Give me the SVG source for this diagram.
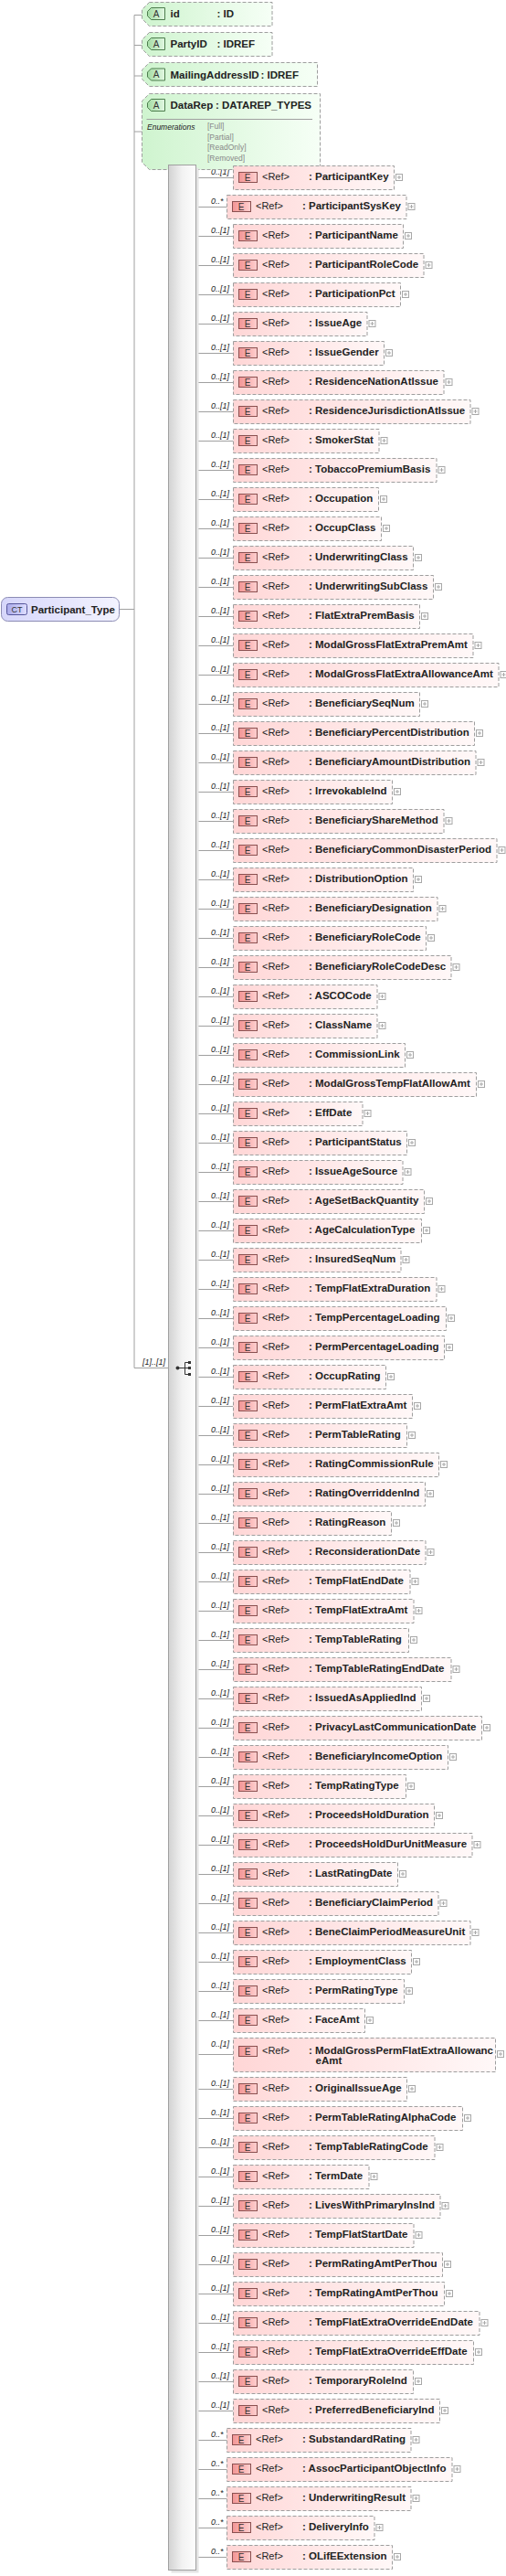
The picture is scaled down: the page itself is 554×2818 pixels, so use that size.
<svg xmlns="http://www.w3.org/2000/svg" xmlns:xlink="http://www.w3.org/1999/xlink" width="554" height="2818" viewBox="0 0 554 2818">
<style>
.eb{fill:url(#gEl);stroke:#9e9e9e;stroke-width:1;stroke-dasharray:4 2}
.ab{fill:url(#gAt);stroke:#9e9e9e;stroke-width:1;stroke-dasharray:4 2}
.ref{font-family:"Liberation Sans",Arial,sans-serif;font-size:11px;fill:#222}
.nm{font-family:"Liberation Sans",Arial,sans-serif;font-size:11.5px;font-weight:bold;fill:#222}
.et{font-family:"Liberation Sans",Arial,sans-serif;font-size:10px;fill:#333;text-anchor:middle}
.ml{font-family:"Liberation Sans",Arial,sans-serif;font-size:9px;font-style:italic;fill:#222}
.cn{stroke:#a0a0a0;stroke-width:1;fill:none}
.en{font-family:"Liberation Sans",Arial,sans-serif;font-size:8.5px;fill:#888}
.eh{font-family:"Liberation Sans",Arial,sans-serif;font-size:8.5px;font-style:italic;fill:#222}
</style>
<defs>
<linearGradient id="gEl" x1="0" y1="0" x2="1" y2="0"><stop offset="0" stop-color="#ffd6d6"/><stop offset="1" stop-color="#fff8f8"/></linearGradient>
<linearGradient id="gEi" x1="0" y1="0" x2="1" y2="0"><stop offset="0" stop-color="#f29494"/><stop offset="1" stop-color="#ffd0d0"/></linearGradient>
<linearGradient id="gAt" x1="0" y1="0" x2="1" y2="0"><stop offset="0" stop-color="#cff4cf"/><stop offset="1" stop-color="#f6fff6"/></linearGradient>
<linearGradient id="gAi" x1="0" y1="0" x2="1" y2="0"><stop offset="0" stop-color="#a4dca4"/><stop offset="1" stop-color="#e2f8e2"/></linearGradient>
<linearGradient id="gCT" x1="0" y1="0" x2="1" y2="0"><stop offset="0" stop-color="#d6d6fa"/><stop offset="1" stop-color="#f3f3ff"/></linearGradient>
<linearGradient id="gCTi" x1="0" y1="0" x2="1" y2="0"><stop offset="0" stop-color="#aaaaea"/><stop offset="1" stop-color="#dedeff"/></linearGradient>
<linearGradient id="gCo" x1="0" y1="0" x2="1" y2="0"><stop offset="0" stop-color="#d2d2d2"/><stop offset="0.5" stop-color="#f2f2f2"/><stop offset="1" stop-color="#fdfdfd"/></linearGradient>
<g id="ei"><rect x="0.5" y="7.5" width="20" height="11" fill="url(#gEi)" stroke="#8a5050"/></g>
<g id="pl"><rect x="0.5" y="9.5" width="7" height="7" fill="#fff" stroke="#a8a8a8"/><path d="M2 13H6M4 11V15" stroke="#a8a8a8" fill="none"/></g>
<g id="ai"><path d="M4.5 0.5H19.5V13.5H4.5L0.5 9.5V4.5Z" fill="url(#gAi)" stroke="#4d7d4d"/></g>
</defs>
<rect width="554" height="2818" fill="#fff"/>

<g id="connectors">
<path class="cn" d="M147 16.5V1496.5M147 16.5H155.5M147 49.5H155.5M147 83H155.5M147 144H155.5M130.5 666.5H147M147 1496.5H184.5"/>
<text class="ml" x="156" y="1493">[1]..[1]</text>
<path class="cn" d="M214.5 194.5H255M214.5 226.5H248M214.5 258.5H255M214.5 290.5H255M214.5 322.5H255M214.5 354.5H255M214.5 386.5H255M214.5 418.5H255M214.5 450.5H255M214.5 482.5H255M214.5 514.5H255M214.5 546.5H255M214.5 578.5H255M214.5 610.5H255M214.5 642.5H255M214.5 674.5H255M214.5 706.5H255M214.5 738.5H255M214.5 770.5H255M214.5 802.5H255M214.5 834.5H255M214.5 866.5H255M214.5 898.5H255M214.5 930.5H255M214.5 962.5H255M214.5 994.5H255M214.5 1026.5H255M214.5 1058.5H255M214.5 1090.5H255M214.5 1122.5H255M214.5 1154.5H255M214.5 1186.5H255M214.5 1218.5H255M214.5 1250.5H255M214.5 1282.5H255M214.5 1314.5H255M214.5 1346.5H255M214.5 1378.5H255M214.5 1410.5H255M214.5 1442.5H255M214.5 1474.5H255M214.5 1506.5H255M214.5 1538.5H255M214.5 1570.5H255M214.5 1602.5H255M214.5 1634.5H255M214.5 1666.5H255M214.5 1698.5H255M214.5 1730.5H255M214.5 1762.5H255M214.5 1794.5H255M214.5 1826.5H255M214.5 1858.5H255M214.5 1890.5H255M214.5 1922.5H255M214.5 1954.5H255M214.5 1986.5H255M214.5 2018.5H255M214.5 2050.5H255M214.5 2082.5H255M214.5 2114.5H255M214.5 2146.5H255M214.5 2178.5H255M214.5 2210.5H255M214.5 2247.5H255M214.5 2285.5H255M214.5 2317.5H255M214.5 2349.5H255M214.5 2381.5H255M214.5 2413.5H255M214.5 2445.5H255M214.5 2477.5H255M214.5 2509.5H255M214.5 2541.5H255M214.5 2573.5H255M214.5 2605.5H255M214.5 2637.5H255M214.5 2669.5H248M214.5 2701.5H248M214.5 2733.5H248M214.5 2765.5H248M214.5 2797.5H248"/>
<g class="ml">
<text x="231" y="190.5">0..[1]</text><text x="231" y="222.5">0..*</text><text x="231" y="254.5">0..[1]</text><text x="231" y="286.5">0..[1]</text><text x="231" y="318.5">0..[1]</text><text x="231" y="350.5">0..[1]</text><text x="231" y="382.5">0..[1]</text><text x="231" y="414.5">0..[1]</text><text x="231" y="446.5">0..[1]</text><text x="231" y="478.5">0..[1]</text><text x="231" y="510.5">0..[1]</text><text x="231" y="542.5">0..[1]</text><text x="231" y="574.5">0..[1]</text><text x="231" y="606.5">0..[1]</text><text x="231" y="638.5">0..[1]</text><text x="231" y="670.5">0..[1]</text><text x="231" y="702.5">0..[1]</text><text x="231" y="734.5">0..[1]</text><text x="231" y="766.5">0..[1]</text><text x="231" y="798.5">0..[1]</text><text x="231" y="830.5">0..[1]</text><text x="231" y="862.5">0..[1]</text><text x="231" y="894.5">0..[1]</text><text x="231" y="926.5">0..[1]</text><text x="231" y="958.5">0..[1]</text><text x="231" y="990.5">0..[1]</text><text x="231" y="1022.5">0..[1]</text><text x="231" y="1054.5">0..[1]</text><text x="231" y="1086.5">0..[1]</text><text x="231" y="1118.5">0..[1]</text><text x="231" y="1150.5">0..[1]</text><text x="231" y="1182.5">0..[1]</text><text x="231" y="1214.5">0..[1]</text><text x="231" y="1246.5">0..[1]</text><text x="231" y="1278.5">0..[1]</text><text x="231" y="1310.5">0..[1]</text><text x="231" y="1342.5">0..[1]</text><text x="231" y="1374.5">0..[1]</text><text x="231" y="1406.5">0..[1]</text><text x="231" y="1438.5">0..[1]</text><text x="231" y="1470.5">0..[1]</text><text x="231" y="1502.5">0..[1]</text><text x="231" y="1534.5">0..[1]</text><text x="231" y="1566.5">0..[1]</text><text x="231" y="1598.5">0..[1]</text><text x="231" y="1630.5">0..[1]</text><text x="231" y="1662.5">0..[1]</text><text x="231" y="1694.5">0..[1]</text><text x="231" y="1726.5">0..[1]</text><text x="231" y="1758.5">0..[1]</text><text x="231" y="1790.5">0..[1]</text><text x="231" y="1822.5">0..[1]</text><text x="231" y="1854.5">0..[1]</text><text x="231" y="1886.5">0..[1]</text><text x="231" y="1918.5">0..[1]</text><text x="231" y="1950.5">0..[1]</text><text x="231" y="1982.5">0..[1]</text><text x="231" y="2014.5">0..[1]</text><text x="231" y="2046.5">0..[1]</text><text x="231" y="2078.5">0..[1]</text><text x="231" y="2110.5">0..[1]</text><text x="231" y="2142.5">0..[1]</text><text x="231" y="2174.5">0..[1]</text><text x="231" y="2206.5">0..[1]</text><text x="231" y="2238.5">0..[1]</text><text x="231" y="2281.5">0..[1]</text><text x="231" y="2313.5">0..[1]</text><text x="231" y="2345.5">0..[1]</text><text x="231" y="2377.5">0..[1]</text><text x="231" y="2409.5">0..[1]</text><text x="231" y="2441.5">0..[1]</text><text x="231" y="2473.5">0..[1]</text><text x="231" y="2505.5">0..[1]</text><text x="231" y="2537.5">0..[1]</text><text x="231" y="2569.5">0..[1]</text><text x="231" y="2601.5">0..[1]</text><text x="231" y="2633.5">0..[1]</text><text x="231" y="2665.5">0..*</text><text x="231" y="2697.5">0..*</text><text x="231" y="2729.5">0..*</text><text x="231" y="2761.5">0..*</text><text x="231" y="2793.5">0..*</text>
</g>
</g>

<g id="attr-id">
<path class="ab" d="M163.5 2.5H298V28.5H163.5L155.5 20.5V10.5Z"/>
<use href="#ai" x="161" y="8"/><text class="et" x="171" y="18.5">A</text>
<text class="nm" x="186.5" y="19">id</text><text class="nm" x="237.5" y="19">: ID</text>
</g>
<g id="attr-PartyID">
<path class="ab" d="M163.5 35.5H298V61.5H163.5L155.5 53.5V43.5Z"/>
<use href="#ai" x="161" y="41"/><text class="et" x="171" y="51.5">A</text>
<text class="nm" x="186.5" y="52">PartyID</text><text class="nm" x="237.5" y="52">: IDREF</text>
</g>
<g id="attr-MailingAddressID">
<path class="ab" d="M163.5 68.5H347.5V94.5H163.5L155.5 86.5V76.5Z"/>
<use href="#ai" x="161" y="74.5"/><text class="et" x="171" y="85">A</text>
<text class="nm" x="186.5" y="85.5">MailingAddressID</text><text class="nm" x="285.5" y="85.5">: IDREF</text>
</g>
<g id="attr-DataRep">
<path class="ab" d="M163.5 102.5H350.5V185.5H163.5L155.5 177.5V110.5Z"/>
<use href="#ai" x="161" y="108"/><text class="et" x="171" y="118.5">A</text>
<text class="nm" x="186.5" y="119">DataRep</text><text class="nm" x="236" y="119">: DATAREP_TYPES</text>
<path d="M160.5 130.5H342" stroke="#a0a0a0"/>
<text class="eh" x="161" y="142">Enumerations</text>
<text class="en" x="227" y="141">[Full]</text><text class="en" x="227" y="152.5">[Partial]</text><text class="en" x="227" y="164">[ReadOnly]</text><text class="en" x="227" y="175.5">[Removed]</text>
</g>

<g id="ct-Participant_Type">
<rect x="1.5" y="653.5" width="129" height="26" rx="7" fill="url(#gCT)" stroke="#8c8cb4"/>
<rect x="7.5" y="660.5" width="22" height="12" rx="2" fill="url(#gCTi)" stroke="#55559a"/>
<text class="et" x="18.5" y="670" style="font-size:9px">CT</text>
<text class="nm" x="34" y="670.5">Participant_Type</text>
</g>

<g id="sequence">
<rect x="187.5" y="183.5" width="30" height="2631" fill="#e4e4e4"/>
<rect x="184.5" y="180.5" width="30" height="2631" fill="url(#gCo)" stroke="#a0a0a0"/>
<circle cx="194.5" cy="1496.5" r="2" fill="#333"/>
<path d="M194.5 1496.5H202.5M202.5 1490.5V1503.5M202.5 1490.5H206M202.5 1496.5H206M202.5 1503.5H206" stroke="#333" fill="none"/>
<rect x="206" y="1489" width="3" height="3" fill="#333"/><rect x="206" y="1495" width="3" height="3" fill="#333"/><rect x="206" y="1502" width="3" height="3" fill="#333"/>
</g>

<g id="el-ParticipantKey" transform="translate(0 181)"><rect class="eb" x="255.5" y="0.5" width="176" height="26"/><use href="#ei" x="261"/><text class="et" x="271" y="16.5">E</text><text class="ref" x="287" y="16">&lt;Ref&gt;</text><text class="nm" x="338" y="16">: ParticipantKey</text><use href="#pl" x="433"/></g>
<g id="el-ParticipantSysKey" transform="translate(0 213)"><rect class="eb" x="248.5" y="0.5" width="196.5" height="26"/><use href="#ei" x="254"/><text class="et" x="264" y="16.5">E</text><text class="ref" x="280" y="16">&lt;Ref&gt;</text><text class="nm" x="331" y="16">: ParticipantSysKey</text><use href="#pl" x="446.5"/></g>
<g id="el-ParticipantName" transform="translate(0 245)"><rect class="eb" x="255.5" y="0.5" width="186" height="26"/><use href="#ei" x="261"/><text class="et" x="271" y="16.5">E</text><text class="ref" x="287" y="16">&lt;Ref&gt;</text><text class="nm" x="338" y="16">: ParticipantName</text><use href="#pl" x="443"/></g>
<g id="el-ParticipantRoleCode" transform="translate(0 277)"><rect class="eb" x="255.5" y="0.5" width="208.5" height="26"/><use href="#ei" x="261"/><text class="et" x="271" y="16.5">E</text><text class="ref" x="287" y="16">&lt;Ref&gt;</text><text class="nm" x="338" y="16">: ParticipantRoleCode</text><use href="#pl" x="465.5"/></g>
<g id="el-ParticipationPct" transform="translate(0 309)"><rect class="eb" x="255.5" y="0.5" width="183" height="26"/><use href="#ei" x="261"/><text class="et" x="271" y="16.5">E</text><text class="ref" x="287" y="16">&lt;Ref&gt;</text><text class="nm" x="338" y="16">: ParticipationPct</text><use href="#pl" x="440"/></g>
<g id="el-IssueAge" transform="translate(0 341)"><rect class="eb" x="255.5" y="0.5" width="146.5" height="26"/><use href="#ei" x="261"/><text class="et" x="271" y="16.5">E</text><text class="ref" x="287" y="16">&lt;Ref&gt;</text><text class="nm" x="338" y="16">: IssueAge</text><use href="#pl" x="403.5"/></g>
<g id="el-IssueGender" transform="translate(0 373)"><rect class="eb" x="255.5" y="0.5" width="165" height="26"/><use href="#ei" x="261"/><text class="et" x="271" y="16.5">E</text><text class="ref" x="287" y="16">&lt;Ref&gt;</text><text class="nm" x="338" y="16">: IssueGender</text><use href="#pl" x="422"/></g>
<g id="el-ResidenceNationAtIssue" transform="translate(0 405)"><rect class="eb" x="255.5" y="0.5" width="230.5" height="26"/><use href="#ei" x="261"/><text class="et" x="271" y="16.5">E</text><text class="ref" x="287" y="16">&lt;Ref&gt;</text><text class="nm" x="338" y="16">: ResidenceNationAtIssue</text><use href="#pl" x="487.5"/></g>
<g id="el-ResidenceJurisdictionAtIssue" transform="translate(0 437)"><rect class="eb" x="255.5" y="0.5" width="259.5" height="26"/><use href="#ei" x="261"/><text class="et" x="271" y="16.5">E</text><text class="ref" x="287" y="16">&lt;Ref&gt;</text><text class="nm" x="338" y="16">: ResidenceJurisdictionAtIssue</text><use href="#pl" x="516.5"/></g>
<g id="el-SmokerStat" transform="translate(0 469)"><rect class="eb" x="255.5" y="0.5" width="159.5" height="26"/><use href="#ei" x="261"/><text class="et" x="271" y="16.5">E</text><text class="ref" x="287" y="16">&lt;Ref&gt;</text><text class="nm" x="338" y="16">: SmokerStat</text><use href="#pl" x="416.5"/></g>
<g id="el-TobaccoPremiumBasis" transform="translate(0 501)"><rect class="eb" x="255.5" y="0.5" width="222.5" height="26"/><use href="#ei" x="261"/><text class="et" x="271" y="16.5">E</text><text class="ref" x="287" y="16">&lt;Ref&gt;</text><text class="nm" x="338" y="16">: TobaccoPremiumBasis</text><use href="#pl" x="479.5"/></g>
<g id="el-Occupation" transform="translate(0 533)"><rect class="eb" x="255.5" y="0.5" width="159" height="26"/><use href="#ei" x="261"/><text class="et" x="271" y="16.5">E</text><text class="ref" x="287" y="16">&lt;Ref&gt;</text><text class="nm" x="338" y="16">: Occupation</text><use href="#pl" x="416"/></g>
<g id="el-OccupClass" transform="translate(0 565)"><rect class="eb" x="255.5" y="0.5" width="162" height="26"/><use href="#ei" x="261"/><text class="et" x="271" y="16.5">E</text><text class="ref" x="287" y="16">&lt;Ref&gt;</text><text class="nm" x="338" y="16">: OccupClass</text><use href="#pl" x="419"/></g>
<g id="el-UnderwritingClass" transform="translate(0 597)"><rect class="eb" x="255.5" y="0.5" width="197" height="26"/><use href="#ei" x="261"/><text class="et" x="271" y="16.5">E</text><text class="ref" x="287" y="16">&lt;Ref&gt;</text><text class="nm" x="338" y="16">: UnderwritingClass</text><use href="#pl" x="454"/></g>
<g id="el-UnderwritingSubClass" transform="translate(0 629)"><rect class="eb" x="255.5" y="0.5" width="219" height="26"/><use href="#ei" x="261"/><text class="et" x="271" y="16.5">E</text><text class="ref" x="287" y="16">&lt;Ref&gt;</text><text class="nm" x="338" y="16">: UnderwritingSubClass</text><use href="#pl" x="476"/></g>
<g id="el-FlatExtraPremBasis" transform="translate(0 661)"><rect class="eb" x="255.5" y="0.5" width="204" height="26"/><use href="#ei" x="261"/><text class="et" x="271" y="16.5">E</text><text class="ref" x="287" y="16">&lt;Ref&gt;</text><text class="nm" x="338" y="16">: FlatExtraPremBasis</text><use href="#pl" x="461"/></g>
<g id="el-ModalGrossFlatExtraPremAmt" transform="translate(0 693)"><rect class="eb" x="255.5" y="0.5" width="262.5" height="26"/><use href="#ei" x="261"/><text class="et" x="271" y="16.5">E</text><text class="ref" x="287" y="16">&lt;Ref&gt;</text><text class="nm" x="338" y="16">: ModalGrossFlatExtraPremAmt</text><use href="#pl" x="519.5"/></g>
<g id="el-ModalGrossFlatExtraAllowanceAmt" transform="translate(0 725)"><rect class="eb" x="255.5" y="0.5" width="290.5" height="26"/><use href="#ei" x="261"/><text class="et" x="271" y="16.5">E</text><text class="ref" x="287" y="16">&lt;Ref&gt;</text><text class="nm" x="338" y="16">: ModalGrossFlatExtraAllowanceAmt</text><use href="#pl" x="547.5"/></g>
<g id="el-BeneficiarySeqNum" transform="translate(0 757)"><rect class="eb" x="255.5" y="0.5" width="204" height="26"/><use href="#ei" x="261"/><text class="et" x="271" y="16.5">E</text><text class="ref" x="287" y="16">&lt;Ref&gt;</text><text class="nm" x="338" y="16">: BeneficiarySeqNum</text><use href="#pl" x="461"/></g>
<g id="el-BeneficiaryPercentDistribution" transform="translate(0 789)"><rect class="eb" x="255.5" y="0.5" width="264" height="26"/><use href="#ei" x="261"/><text class="et" x="271" y="16.5">E</text><text class="ref" x="287" y="16">&lt;Ref&gt;</text><text class="nm" x="338" y="16">: BeneficiaryPercentDistribution</text><use href="#pl" x="521"/></g>
<g id="el-BeneficiaryAmountDistribution" transform="translate(0 821)"><rect class="eb" x="255.5" y="0.5" width="265.5" height="26"/><use href="#ei" x="261"/><text class="et" x="271" y="16.5">E</text><text class="ref" x="287" y="16">&lt;Ref&gt;</text><text class="nm" x="338" y="16">: BeneficiaryAmountDistribution</text><use href="#pl" x="522.5"/></g>
<g id="el-IrrevokableInd" transform="translate(0 853)"><rect class="eb" x="255.5" y="0.5" width="174" height="26"/><use href="#ei" x="261"/><text class="et" x="271" y="16.5">E</text><text class="ref" x="287" y="16">&lt;Ref&gt;</text><text class="nm" x="338" y="16">: IrrevokableInd</text><use href="#pl" x="431"/></g>
<g id="el-BeneficiaryShareMethod" transform="translate(0 885)"><rect class="eb" x="255.5" y="0.5" width="230.5" height="26"/><use href="#ei" x="261"/><text class="et" x="271" y="16.5">E</text><text class="ref" x="287" y="16">&lt;Ref&gt;</text><text class="nm" x="338" y="16">: BeneficiaryShareMethod</text><use href="#pl" x="487.5"/></g>
<g id="el-BeneficiaryCommonDisasterPeriod" transform="translate(0 917)"><rect class="eb" x="255.5" y="0.5" width="288.5" height="26"/><use href="#ei" x="261"/><text class="et" x="271" y="16.5">E</text><text class="ref" x="287" y="16">&lt;Ref&gt;</text><text class="nm" x="338" y="16">: BeneficiaryCommonDisasterPeriod</text><use href="#pl" x="545.5"/></g>
<g id="el-DistributionOption" transform="translate(0 949)"><rect class="eb" x="255.5" y="0.5" width="197" height="26"/><use href="#ei" x="261"/><text class="et" x="271" y="16.5">E</text><text class="ref" x="287" y="16">&lt;Ref&gt;</text><text class="nm" x="338" y="16">: DistributionOption</text><use href="#pl" x="454"/></g>
<g id="el-BeneficiaryDesignation" transform="translate(0 981)"><rect class="eb" x="255.5" y="0.5" width="223.5" height="26"/><use href="#ei" x="261"/><text class="et" x="271" y="16.5">E</text><text class="ref" x="287" y="16">&lt;Ref&gt;</text><text class="nm" x="338" y="16">: BeneficiaryDesignation</text><use href="#pl" x="480.5"/></g>
<g id="el-BeneficiaryRoleCode" transform="translate(0 1013)"><rect class="eb" x="255.5" y="0.5" width="211" height="26"/><use href="#ei" x="261"/><text class="et" x="271" y="16.5">E</text><text class="ref" x="287" y="16">&lt;Ref&gt;</text><text class="nm" x="338" y="16">: BeneficiaryRoleCode</text><use href="#pl" x="468"/></g>
<g id="el-BeneficiaryRoleCodeDesc" transform="translate(0 1045)"><rect class="eb" x="255.5" y="0.5" width="238.5" height="26"/><use href="#ei" x="261"/><text class="et" x="271" y="16.5">E</text><text class="ref" x="287" y="16">&lt;Ref&gt;</text><text class="nm" x="338" y="16">: BeneficiaryRoleCodeDesc</text><use href="#pl" x="495.5"/></g>
<g id="el-ASCOCode" transform="translate(0 1077)"><rect class="eb" x="255.5" y="0.5" width="157.5" height="26"/><use href="#ei" x="261"/><text class="et" x="271" y="16.5">E</text><text class="ref" x="287" y="16">&lt;Ref&gt;</text><text class="nm" x="338" y="16">: ASCOCode</text><use href="#pl" x="414.5"/></g>
<g id="el-ClassName" transform="translate(0 1109)"><rect class="eb" x="255.5" y="0.5" width="157.5" height="26"/><use href="#ei" x="261"/><text class="et" x="271" y="16.5">E</text><text class="ref" x="287" y="16">&lt;Ref&gt;</text><text class="nm" x="338" y="16">: ClassName</text><use href="#pl" x="414.5"/></g>
<g id="el-CommissionLink" transform="translate(0 1141)"><rect class="eb" x="255.5" y="0.5" width="188" height="26"/><use href="#ei" x="261"/><text class="et" x="271" y="16.5">E</text><text class="ref" x="287" y="16">&lt;Ref&gt;</text><text class="nm" x="338" y="16">: CommissionLink</text><use href="#pl" x="445"/></g>
<g id="el-ModalGrossTempFlatAllowAmt" transform="translate(0 1173)"><rect class="eb" x="255.5" y="0.5" width="266" height="26"/><use href="#ei" x="261"/><text class="et" x="271" y="16.5">E</text><text class="ref" x="287" y="16">&lt;Ref&gt;</text><text class="nm" x="338" y="16">: ModalGrossTempFlatAllowAmt</text><use href="#pl" x="523"/></g>
<g id="el-EffDate" transform="translate(0 1205)"><rect class="eb" x="255.5" y="0.5" width="141.5" height="26"/><use href="#ei" x="261"/><text class="et" x="271" y="16.5">E</text><text class="ref" x="287" y="16">&lt;Ref&gt;</text><text class="nm" x="338" y="16">: EffDate</text><use href="#pl" x="398.5"/></g>
<g id="el-ParticipantStatus" transform="translate(0 1237)"><rect class="eb" x="255.5" y="0.5" width="190" height="26"/><use href="#ei" x="261"/><text class="et" x="271" y="16.5">E</text><text class="ref" x="287" y="16">&lt;Ref&gt;</text><text class="nm" x="338" y="16">: ParticipantStatus</text><use href="#pl" x="447"/></g>
<g id="el-IssueAgeSource" transform="translate(0 1269)"><rect class="eb" x="255.5" y="0.5" width="185.5" height="26"/><use href="#ei" x="261"/><text class="et" x="271" y="16.5">E</text><text class="ref" x="287" y="16">&lt;Ref&gt;</text><text class="nm" x="338" y="16">: IssueAgeSource</text><use href="#pl" x="442.5"/></g>
<g id="el-AgeSetBackQuantity" transform="translate(0 1301)"><rect class="eb" x="255.5" y="0.5" width="209" height="26"/><use href="#ei" x="261"/><text class="et" x="271" y="16.5">E</text><text class="ref" x="287" y="16">&lt;Ref&gt;</text><text class="nm" x="338" y="16">: AgeSetBackQuantity</text><use href="#pl" x="466"/></g>
<g id="el-AgeCalculationType" transform="translate(0 1333)"><rect class="eb" x="255.5" y="0.5" width="206" height="26"/><use href="#ei" x="261"/><text class="et" x="271" y="16.5">E</text><text class="ref" x="287" y="16">&lt;Ref&gt;</text><text class="nm" x="338" y="16">: AgeCalculationType</text><use href="#pl" x="463"/></g>
<g id="el-InsuredSeqNum" transform="translate(0 1365)"><rect class="eb" x="255.5" y="0.5" width="183.5" height="26"/><use href="#ei" x="261"/><text class="et" x="271" y="16.5">E</text><text class="ref" x="287" y="16">&lt;Ref&gt;</text><text class="nm" x="338" y="16">: InsuredSeqNum</text><use href="#pl" x="440.5"/></g>
<g id="el-TempFlatExtraDuration" transform="translate(0 1397)"><rect class="eb" x="255.5" y="0.5" width="222.5" height="26"/><use href="#ei" x="261"/><text class="et" x="271" y="16.5">E</text><text class="ref" x="287" y="16">&lt;Ref&gt;</text><text class="nm" x="338" y="16">: TempFlatExtraDuration</text><use href="#pl" x="479.5"/></g>
<g id="el-TempPercentageLoading" transform="translate(0 1429)"><rect class="eb" x="255.5" y="0.5" width="233" height="26"/><use href="#ei" x="261"/><text class="et" x="271" y="16.5">E</text><text class="ref" x="287" y="16">&lt;Ref&gt;</text><text class="nm" x="338" y="16">: TempPercentageLoading</text><use href="#pl" x="490"/></g>
<g id="el-PermPercentageLoading" transform="translate(0 1461)"><rect class="eb" x="255.5" y="0.5" width="231" height="26"/><use href="#ei" x="261"/><text class="et" x="271" y="16.5">E</text><text class="ref" x="287" y="16">&lt;Ref&gt;</text><text class="nm" x="338" y="16">: PermPercentageLoading</text><use href="#pl" x="488"/></g>
<g id="el-OccupRating" transform="translate(0 1493)"><rect class="eb" x="255.5" y="0.5" width="167" height="26"/><use href="#ei" x="261"/><text class="et" x="271" y="16.5">E</text><text class="ref" x="287" y="16">&lt;Ref&gt;</text><text class="nm" x="338" y="16">: OccupRating</text><use href="#pl" x="424"/></g>
<g id="el-PermFlatExtraAmt" transform="translate(0 1525)"><rect class="eb" x="255.5" y="0.5" width="196" height="26"/><use href="#ei" x="261"/><text class="et" x="271" y="16.5">E</text><text class="ref" x="287" y="16">&lt;Ref&gt;</text><text class="nm" x="338" y="16">: PermFlatExtraAmt</text><use href="#pl" x="453"/></g>
<g id="el-PermTableRating" transform="translate(0 1557)"><rect class="eb" x="255.5" y="0.5" width="190" height="26"/><use href="#ei" x="261"/><text class="et" x="271" y="16.5">E</text><text class="ref" x="287" y="16">&lt;Ref&gt;</text><text class="nm" x="338" y="16">: PermTableRating</text><use href="#pl" x="447"/></g>
<g id="el-RatingCommissionRule" transform="translate(0 1589)"><rect class="eb" x="255.5" y="0.5" width="225" height="26"/><use href="#ei" x="261"/><text class="et" x="271" y="16.5">E</text><text class="ref" x="287" y="16">&lt;Ref&gt;</text><text class="nm" x="338" y="16">: RatingCommissionRule</text><use href="#pl" x="482"/></g>
<g id="el-RatingOverriddenInd" transform="translate(0 1621)"><rect class="eb" x="255.5" y="0.5" width="210" height="26"/><use href="#ei" x="261"/><text class="et" x="271" y="16.5">E</text><text class="ref" x="287" y="16">&lt;Ref&gt;</text><text class="nm" x="338" y="16">: RatingOverriddenInd</text><use href="#pl" x="467"/></g>
<g id="el-RatingReason" transform="translate(0 1653)"><rect class="eb" x="255.5" y="0.5" width="173" height="26"/><use href="#ei" x="261"/><text class="et" x="271" y="16.5">E</text><text class="ref" x="287" y="16">&lt;Ref&gt;</text><text class="nm" x="338" y="16">: RatingReason</text><use href="#pl" x="430"/></g>
<g id="el-ReconsiderationDate" transform="translate(0 1685)"><rect class="eb" x="255.5" y="0.5" width="210.5" height="26"/><use href="#ei" x="261"/><text class="et" x="271" y="16.5">E</text><text class="ref" x="287" y="16">&lt;Ref&gt;</text><text class="nm" x="338" y="16">: ReconsiderationDate</text><use href="#pl" x="467.5"/></g>
<g id="el-TempFlatEndDate" transform="translate(0 1717)"><rect class="eb" x="255.5" y="0.5" width="193.5" height="26"/><use href="#ei" x="261"/><text class="et" x="271" y="16.5">E</text><text class="ref" x="287" y="16">&lt;Ref&gt;</text><text class="nm" x="338" y="16">: TempFlatEndDate</text><use href="#pl" x="450.5"/></g>
<g id="el-TempFlatExtraAmt" transform="translate(0 1749)"><rect class="eb" x="255.5" y="0.5" width="197.5" height="26"/><use href="#ei" x="261"/><text class="et" x="271" y="16.5">E</text><text class="ref" x="287" y="16">&lt;Ref&gt;</text><text class="nm" x="338" y="16">: TempFlatExtraAmt</text><use href="#pl" x="454.5"/></g>
<g id="el-TempTableRating" transform="translate(0 1781)"><rect class="eb" x="255.5" y="0.5" width="192" height="26"/><use href="#ei" x="261"/><text class="et" x="271" y="16.5">E</text><text class="ref" x="287" y="16">&lt;Ref&gt;</text><text class="nm" x="338" y="16">: TempTableRating</text><use href="#pl" x="449"/></g>
<g id="el-TempTableRatingEndDate" transform="translate(0 1813)"><rect class="eb" x="255.5" y="0.5" width="238.5" height="26"/><use href="#ei" x="261"/><text class="et" x="271" y="16.5">E</text><text class="ref" x="287" y="16">&lt;Ref&gt;</text><text class="nm" x="338" y="16">: TempTableRatingEndDate</text><use href="#pl" x="495.5"/></g>
<g id="el-IssuedAsAppliedInd" transform="translate(0 1845)"><rect class="eb" x="255.5" y="0.5" width="206" height="26"/><use href="#ei" x="261"/><text class="et" x="271" y="16.5">E</text><text class="ref" x="287" y="16">&lt;Ref&gt;</text><text class="nm" x="338" y="16">: IssuedAsAppliedInd</text><use href="#pl" x="463"/></g>
<g id="el-PrivacyLastCommunicationDate" transform="translate(0 1877)"><rect class="eb" x="255.5" y="0.5" width="272" height="26"/><use href="#ei" x="261"/><text class="et" x="271" y="16.5">E</text><text class="ref" x="287" y="16">&lt;Ref&gt;</text><text class="nm" x="338" y="16">: PrivacyLastCommunicationDate</text><use href="#pl" x="529"/></g>
<g id="el-BeneficiaryIncomeOption" transform="translate(0 1909)"><rect class="eb" x="255.5" y="0.5" width="235" height="26"/><use href="#ei" x="261"/><text class="et" x="271" y="16.5">E</text><text class="ref" x="287" y="16">&lt;Ref&gt;</text><text class="nm" x="338" y="16">: BeneficiaryIncomeOption</text><use href="#pl" x="492"/></g>
<g id="el-TempRatingType" transform="translate(0 1941)"><rect class="eb" x="255.5" y="0.5" width="189" height="26"/><use href="#ei" x="261"/><text class="et" x="271" y="16.5">E</text><text class="ref" x="287" y="16">&lt;Ref&gt;</text><text class="nm" x="338" y="16">: TempRatingType</text><use href="#pl" x="446"/></g>
<g id="el-ProceedsHoldDuration" transform="translate(0 1973)"><rect class="eb" x="255.5" y="0.5" width="220" height="26"/><use href="#ei" x="261"/><text class="et" x="271" y="16.5">E</text><text class="ref" x="287" y="16">&lt;Ref&gt;</text><text class="nm" x="338" y="16">: ProceedsHoldDuration</text><use href="#pl" x="477"/></g>
<g id="el-ProceedsHoldDurUnitMeasure" transform="translate(0 2005)"><rect class="eb" x="255.5" y="0.5" width="261.5" height="26"/><use href="#ei" x="261"/><text class="et" x="271" y="16.5">E</text><text class="ref" x="287" y="16">&lt;Ref&gt;</text><text class="nm" x="338" y="16">: ProceedsHoldDurUnitMeasure</text><use href="#pl" x="518.5"/></g>
<g id="el-LastRatingDate" transform="translate(0 2037)"><rect class="eb" x="255.5" y="0.5" width="180" height="26"/><use href="#ei" x="261"/><text class="et" x="271" y="16.5">E</text><text class="ref" x="287" y="16">&lt;Ref&gt;</text><text class="nm" x="338" y="16">: LastRatingDate</text><use href="#pl" x="437"/></g>
<g id="el-BeneficiaryClaimPeriod" transform="translate(0 2069)"><rect class="eb" x="255.5" y="0.5" width="224.5" height="26"/><use href="#ei" x="261"/><text class="et" x="271" y="16.5">E</text><text class="ref" x="287" y="16">&lt;Ref&gt;</text><text class="nm" x="338" y="16">: BeneficiaryClaimPeriod</text><use href="#pl" x="481.5"/></g>
<g id="el-BeneClaimPeriodMeasureUnit" transform="translate(0 2101)"><rect class="eb" x="255.5" y="0.5" width="259.5" height="26"/><use href="#ei" x="261"/><text class="et" x="271" y="16.5">E</text><text class="ref" x="287" y="16">&lt;Ref&gt;</text><text class="nm" x="338" y="16">: BeneClaimPeriodMeasureUnit</text><use href="#pl" x="516.5"/></g>
<g id="el-EmploymentClass" transform="translate(0 2133)"><rect class="eb" x="255.5" y="0.5" width="195" height="26"/><use href="#ei" x="261"/><text class="et" x="271" y="16.5">E</text><text class="ref" x="287" y="16">&lt;Ref&gt;</text><text class="nm" x="338" y="16">: EmploymentClass</text><use href="#pl" x="452"/></g>
<g id="el-PermRatingType" transform="translate(0 2165)"><rect class="eb" x="255.5" y="0.5" width="187" height="26"/><use href="#ei" x="261"/><text class="et" x="271" y="16.5">E</text><text class="ref" x="287" y="16">&lt;Ref&gt;</text><text class="nm" x="338" y="16">: PermRatingType</text><use href="#pl" x="444"/></g>
<g id="el-FaceAmt" transform="translate(0 2197)"><rect class="eb" x="255.5" y="0.5" width="144" height="26"/><use href="#ei" x="261"/><text class="et" x="271" y="16.5">E</text><text class="ref" x="287" y="16">&lt;Ref&gt;</text><text class="nm" x="338" y="16">: FaceAmt</text><use href="#pl" x="401"/></g>
<g id="el-ModalGrossPermFlatExtraAllowanceAmt" transform="translate(0 2229)"><rect class="eb" x="255.5" y="0.5" width="287" height="37"/><use href="#ei" x="261" y="2"/><text class="et" x="271" y="18.5">E</text><text class="ref" x="287" y="17.5">&lt;Ref&gt;</text><text class="nm" x="338" y="17.5" textLength="202" lengthAdjust="spacing">: ModalGrossPermFlatExtraAllowanc</text><text class="nm" x="345.5" y="29">eAmt</text><use href="#pl" x="544" y="5"/></g>
<g id="el-OriginalIssueAge" transform="translate(0 2272)"><rect class="eb" x="255.5" y="0.5" width="190" height="26"/><use href="#ei" x="261"/><text class="et" x="271" y="16.5">E</text><text class="ref" x="287" y="16">&lt;Ref&gt;</text><text class="nm" x="338" y="16">: OriginalIssueAge</text><use href="#pl" x="447"/></g>
<g id="el-PermTableRatingAlphaCode" transform="translate(0 2304)"><rect class="eb" x="255.5" y="0.5" width="251" height="26"/><use href="#ei" x="261"/><text class="et" x="271" y="16.5">E</text><text class="ref" x="287" y="16">&lt;Ref&gt;</text><text class="nm" x="338" y="16">: PermTableRatingAlphaCode</text><use href="#pl" x="508"/></g>
<g id="el-TempTableRatingCode" transform="translate(0 2336)"><rect class="eb" x="255.5" y="0.5" width="220.5" height="26"/><use href="#ei" x="261"/><text class="et" x="271" y="16.5">E</text><text class="ref" x="287" y="16">&lt;Ref&gt;</text><text class="nm" x="338" y="16">: TempTableRatingCode</text><use href="#pl" x="477.5"/></g>
<g id="el-TermDate" transform="translate(0 2368)"><rect class="eb" x="255.5" y="0.5" width="148.5" height="26"/><use href="#ei" x="261"/><text class="et" x="271" y="16.5">E</text><text class="ref" x="287" y="16">&lt;Ref&gt;</text><text class="nm" x="338" y="16">: TermDate</text><use href="#pl" x="405.5"/></g>
<g id="el-LivesWithPrimaryInsInd" transform="translate(0 2400)"><rect class="eb" x="255.5" y="0.5" width="226.5" height="26"/><use href="#ei" x="261"/><text class="et" x="271" y="16.5">E</text><text class="ref" x="287" y="16">&lt;Ref&gt;</text><text class="nm" x="338" y="16">: LivesWithPrimaryInsInd</text><use href="#pl" x="483.5"/></g>
<g id="el-TempFlatStartDate" transform="translate(0 2432)"><rect class="eb" x="255.5" y="0.5" width="197.5" height="26"/><use href="#ei" x="261"/><text class="et" x="271" y="16.5">E</text><text class="ref" x="287" y="16">&lt;Ref&gt;</text><text class="nm" x="338" y="16">: TempFlatStartDate</text><use href="#pl" x="454.5"/></g>
<g id="el-PermRatingAmtPerThou" transform="translate(0 2464)"><rect class="eb" x="255.5" y="0.5" width="229" height="26"/><use href="#ei" x="261"/><text class="et" x="271" y="16.5">E</text><text class="ref" x="287" y="16">&lt;Ref&gt;</text><text class="nm" x="338" y="16">: PermRatingAmtPerThou</text><use href="#pl" x="486"/></g>
<g id="el-TempRatingAmtPerThou" transform="translate(0 2496)"><rect class="eb" x="255.5" y="0.5" width="231" height="26"/><use href="#ei" x="261"/><text class="et" x="271" y="16.5">E</text><text class="ref" x="287" y="16">&lt;Ref&gt;</text><text class="nm" x="338" y="16">: TempRatingAmtPerThou</text><use href="#pl" x="488"/></g>
<g id="el-TempFlatExtraOverrideEndDate" transform="translate(0 2528)"><rect class="eb" x="255.5" y="0.5" width="269.5" height="26"/><use href="#ei" x="261"/><text class="et" x="271" y="16.5">E</text><text class="ref" x="287" y="16">&lt;Ref&gt;</text><text class="nm" x="338" y="16">: TempFlatExtraOverrideEndDate</text><use href="#pl" x="526.5"/></g>
<g id="el-TempFlatExtraOverrideEffDate" transform="translate(0 2560)"><rect class="eb" x="255.5" y="0.5" width="263" height="26"/><use href="#ei" x="261"/><text class="et" x="271" y="16.5">E</text><text class="ref" x="287" y="16">&lt;Ref&gt;</text><text class="nm" x="338" y="16">: TempFlatExtraOverrideEffDate</text><use href="#pl" x="520"/></g>
<g id="el-TemporaryRoleInd" transform="translate(0 2592)"><rect class="eb" x="255.5" y="0.5" width="197" height="26"/><use href="#ei" x="261"/><text class="et" x="271" y="16.5">E</text><text class="ref" x="287" y="16">&lt;Ref&gt;</text><text class="nm" x="338" y="16">: TemporaryRoleInd</text><use href="#pl" x="454"/></g>
<g id="el-PreferredBeneficiaryInd" transform="translate(0 2624)"><rect class="eb" x="255.5" y="0.5" width="226" height="26"/><use href="#ei" x="261"/><text class="et" x="271" y="16.5">E</text><text class="ref" x="287" y="16">&lt;Ref&gt;</text><text class="nm" x="338" y="16">: PreferredBeneficiaryInd</text><use href="#pl" x="483"/></g>
<g id="el-SubstandardRating" transform="translate(0 2656)"><rect class="eb" x="248.5" y="0.5" width="201.5" height="26"/><use href="#ei" x="254"/><text class="et" x="264" y="16.5">E</text><text class="ref" x="280" y="16">&lt;Ref&gt;</text><text class="nm" x="331" y="16">: SubstandardRating</text><use href="#pl" x="451.5"/></g>
<g id="el-AssocParticipantObjectInfo" transform="translate(0 2688)"><rect class="eb" x="248.5" y="0.5" width="246.5" height="26"/><use href="#ei" x="254"/><text class="et" x="264" y="16.5">E</text><text class="ref" x="280" y="16">&lt;Ref&gt;</text><text class="nm" x="331" y="16">: AssocParticipantObjectInfo</text><use href="#pl" x="496.5"/></g>
<g id="el-UnderwritingResult" transform="translate(0 2720)"><rect class="eb" x="248.5" y="0.5" width="201.5" height="26"/><use href="#ei" x="254"/><text class="et" x="264" y="16.5">E</text><text class="ref" x="280" y="16">&lt;Ref&gt;</text><text class="nm" x="331" y="16">: UnderwritingResult</text><use href="#pl" x="451.5"/></g>
<g id="el-DeliveryInfo" transform="translate(0 2752)"><rect class="eb" x="248.5" y="0.5" width="161.5" height="26"/><use href="#ei" x="254"/><text class="et" x="264" y="16.5">E</text><text class="ref" x="280" y="16">&lt;Ref&gt;</text><text class="nm" x="331" y="16">: DeliveryInfo</text><use href="#pl" x="411.5"/></g>
<g id="el-OLifEExtension" transform="translate(0 2784)"><rect class="eb" x="248.5" y="0.5" width="181" height="26"/><use href="#ei" x="254"/><text class="et" x="264" y="16.5">E</text><text class="ref" x="280" y="16">&lt;Ref&gt;</text><text class="nm" x="331" y="16">: OLifEExtension</text><use href="#pl" x="431"/></g>
</svg>
